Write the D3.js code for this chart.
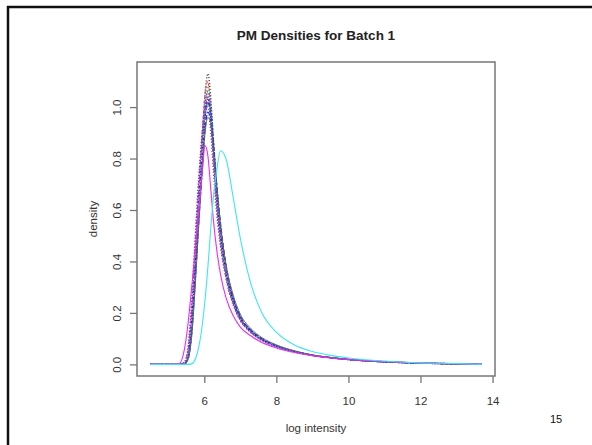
<!DOCTYPE html>
<html>
<head>
<meta charset="utf-8">
<script src="https://cdn.jsdelivr.net/npm/d3@7"></script>
<style>
body { margin: 0; background: #fff; }
text { font-family: "Liberation Sans", Arial, sans-serif; }
</style>
</head>
<body>
<div id="chart"></div>
<script>
// 1: DATA (density curves, one y array per array sample)
const xGrid = [4.5, 5.3, 5.45, 5.55, 5.65, 5.75, 5.85, 5.95, 6.02, 6.1, 6.18, 6.26, 6.35, 6.45,
               6.6, 6.8, 7.0, 7.3, 7.6, 8.0, 8.5, 9.0, 9.5, 10, 11, 12, 13, 13.7];

const s01 = [0, 0, 0.003, 0.03, 0.15, 0.39, 0.65, 0.89, 1.05, 1.13, 1.03, 0.84, 0.65, 0.5, 0.355, 0.242, 0.176, 0.126, 0.096, 0.071, 0.05, 0.035, 0.026, 0.019, 0.01, 0.005, 0.002, 0];
const s02 = [0, 0, 0.006, 0.05, 0.2, 0.45, 0.7, 0.92, 1.05, 1.10, 0.98, 0.8, 0.62, 0.48, 0.345, 0.237, 0.173, 0.124, 0.094, 0.07, 0.05, 0.035, 0.026, 0.019, 0.01, 0.005, 0.002, 0];
const s03 = [0, 0, 0.002, 0.02, 0.12, 0.34, 0.58, 0.82, 0.98, 1.08, 1.02, 0.86, 0.68, 0.53, 0.37, 0.25, 0.18, 0.128, 0.097, 0.071, 0.05, 0.035, 0.026, 0.019, 0.01, 0.005, 0.002, 0];
const s04 = [0, 0, 0.008, 0.06, 0.23, 0.48, 0.72, 0.91, 1.01, 1.06, 0.95, 0.77, 0.6, 0.47, 0.34, 0.235, 0.172, 0.124, 0.094, 0.07, 0.05, 0.035, 0.026, 0.019, 0.01, 0.005, 0.002, 0];
const s05 = [0, 0, 0.006, 0.05, 0.2, 0.44, 0.68, 0.88, 0.99, 1.04, 0.95, 0.78, 0.62, 0.48, 0.345, 0.238, 0.174, 0.125, 0.095, 0.07, 0.05, 0.035, 0.026, 0.019, 0.01, 0.005, 0.002, 0];
const s06 = [0, 0, 0.002, 0.025, 0.13, 0.35, 0.59, 0.81, 0.95, 1.03, 0.99, 0.86, 0.69, 0.54, 0.38, 0.255, 0.183, 0.13, 0.098, 0.072, 0.051, 0.036, 0.026, 0.019, 0.01, 0.005, 0.002, 0];
const s07 = [0, 0, 0.003, 0.035, 0.16, 0.39, 0.63, 0.84, 0.96, 1.02, 0.96, 0.82, 0.66, 0.51, 0.362, 0.248, 0.18, 0.128, 0.097, 0.071, 0.05, 0.035, 0.026, 0.019, 0.01, 0.005, 0.002, 0];
const s08 = [0, 0, 0.009, 0.07, 0.25, 0.5, 0.73, 0.9, 0.98, 1.0, 0.9, 0.74, 0.58, 0.46, 0.335, 0.232, 0.17, 0.123, 0.093, 0.069, 0.049, 0.035, 0.026, 0.019, 0.01, 0.005, 0.002, 0];
const s09 = [0, 0, 0.002, 0.022, 0.12, 0.33, 0.56, 0.77, 0.91, 0.98, 0.95, 0.84, 0.69, 0.55, 0.39, 0.262, 0.187, 0.132, 0.1, 0.073, 0.051, 0.036, 0.026, 0.019, 0.01, 0.005, 0.002, 0];
const s10 = [0, 0, 0.004, 0.04, 0.18, 0.42, 0.65, 0.85, 0.96, 1.01, 0.94, 0.79, 0.63, 0.49, 0.35, 0.24, 0.175, 0.125, 0.095, 0.07, 0.05, 0.035, 0.026, 0.019, 0.01, 0.005, 0.002, 0];
const s11 = [0, 0, 0.002, 0.02, 0.11, 0.31, 0.55, 0.77, 0.9, 0.96, 0.93, 0.82, 0.68, 0.54, 0.39, 0.27, 0.195, 0.138, 0.104, 0.076, 0.053, 0.037, 0.027, 0.02, 0.011, 0.005, 0.002, 0];
const s12 = [0, 0.002, 0.06, 0.16, 0.3, 0.45, 0.6, 0.76, 0.85, 0.81, 0.68, 0.55, 0.44, 0.35, 0.26, 0.19, 0.145, 0.11, 0.085, 0.064, 0.046, 0.034, 0.025, 0.019, 0.011, 0.006, 0.003, 0];
const s13 = [0, 0, 0, 0, 0.002, 0.02, 0.07, 0.16, 0.25, 0.38, 0.53, 0.66, 0.76, 0.83, 0.8, 0.65, 0.49, 0.31, 0.2, 0.125, 0.075, 0.05, 0.035, 0.025, 0.013, 0.006, 0.003, 0];

const seriesList = [s01, s02, s03, s04, s05, s06, s07, s08, s09, s10, s11, s12, s13];

const xTicks = [6, 8, 10, 12, 14];
const yTicks = [0, 0.2, 0.4, 0.6, 0.8, 1.0];

// styles for each series (R palette colours and line types)
const lineColors = ["#444444", "#ff4060", "#30c030", "#3030ff", "#c020c0", "#4040e0", "#262670",
                    "#a030d0", "#3030b0", "#40b0f0", "#666666", "#ee2cee", "#3ee6ee"];
const lineDashes = ["1,2", "3,2", "1,2", "1,2", "3,2", "3,2", "1,2,3,2",
                    "1,2", "5,2", "1,2", null, null, null];
const lineWidths = [1.5, 1.2, 1.5, 1.5, 1.2, 1.2, 1.2, 1.5, 1.2, 1.5, 1, 1.1, 1.1];

// 2: SVG AND SCALES
const W = 592, H = 445;
const plot = { left: 137, right: 495, top: 62, bottom: 376 };

const svg = d3.select("#chart").append("svg")
    .attr("width", W)
    .attr("height", H);

// R style 4% padding around the data range
const xExt = d3.extent(xGrid);
const xPad = (xExt[1] - xExt[0]) * 0.04;
const yMax = d3.max(seriesList, s => d3.max(s));
const yPad = yMax * 0.04;

const x = d3.scaleLinear()
    .domain([xExt[0] - xPad, xExt[1] + xPad])
    .range([plot.left, plot.right]);

const y = d3.scaleLinear()
    .domain([0 - yPad, yMax + yPad])
    .range([plot.bottom, plot.top]);

// slide frame
svg.append("line").attr("x1", 7).attr("x2", W).attr("y1", 7).attr("y2", 7)
    .attr("stroke", "#111").attr("stroke-width", 2.5);
svg.append("line").attr("x1", 8).attr("x2", 8).attr("y1", 6).attr("y2", H)
    .attr("stroke", "#111").attr("stroke-width", 2.5);

// 3: CURVES
const line = d3.line()
    .x((d, i) => x(xGrid[i]))
    .y(d => y(d))
    .curve(d3.curveMonotoneX);

svg.append("g")
    .selectAll("path")
    .data(seriesList)
    .join("path")
    .attr("fill", "none")
    .attr("stroke", (d, i) => lineColors[i])
    .attr("stroke-width", (d, i) => lineWidths[i])
    .attr("stroke-dasharray", (d, i) => lineDashes[i])
    .attr("d", line);

// 4: AXES
const axisColor = "#777";

const xAxis = svg.append("g")
    .attr("transform", `translate(0,${plot.bottom})`)
    .call(d3.axisBottom(x).tickValues(xTicks).tickSize(7).tickSizeOuter(0).tickPadding(14));
xAxis.select(".domain").remove();
xAxis.selectAll("line").attr("stroke", axisColor).attr("stroke-width", 1.3);
xAxis.selectAll("text")
    .attr("fill", "#333")
    .style("font-size", "11.5px");

const yAxis = svg.append("g")
    .attr("transform", `translate(${plot.left},0)`)
    .call(d3.axisLeft(y).tickValues(yTicks).tickSize(7).tickSizeOuter(0).tickFormat(d3.format(".1f")));
yAxis.select(".domain").remove();
yAxis.selectAll("line").attr("stroke", axisColor).attr("stroke-width", 1.3);
yAxis.selectAll("text")
    .attr("x", null).attr("dy", null)
    .attr("transform", "translate(-20,0) rotate(-90)")
    .attr("text-anchor", "middle")
    .attr("dominant-baseline", "central")
    .attr("fill", "#333")
    .style("font-size", "11.5px");

// plot box
svg.append("rect")
    .attr("x", plot.left).attr("y", plot.top)
    .attr("width", plot.right - plot.left)
    .attr("height", plot.bottom - plot.top)
    .attr("fill", "none")
    .attr("stroke", axisColor)
    .attr("stroke-width", 1.5);

// 5: LABELS
svg.append("text")
    .attr("x", (plot.left + plot.right) / 2)
    .attr("y", 40)
    .attr("text-anchor", "middle")
    .style("font-size", "13.5px")
    .style("font-weight", "bold")
    .attr("fill", "#222")
    .text("PM Densities for Batch 1");

svg.append("text")
    .attr("x", (plot.left + plot.right) / 2)
    .attr("y", 432)
    .attr("text-anchor", "middle")
    .style("font-size", "11.5px")
    .attr("fill", "#333")
    .text("log intensity");

svg.append("text")
    .attr("transform", `translate(93,${(plot.top + plot.bottom) / 2}) rotate(-90)`)
    .attr("text-anchor", "middle")
    .attr("dominant-baseline", "central")
    .style("font-size", "11.5px")
    .attr("fill", "#333")
    .text("density");

// slide number
svg.append("text")
    .attr("x", 556)
    .attr("y", 423)
    .attr("text-anchor", "middle")
    .style("font-size", "11px")
    .attr("fill", "#111")
    .text("15");
</script>
</body>
</html>
